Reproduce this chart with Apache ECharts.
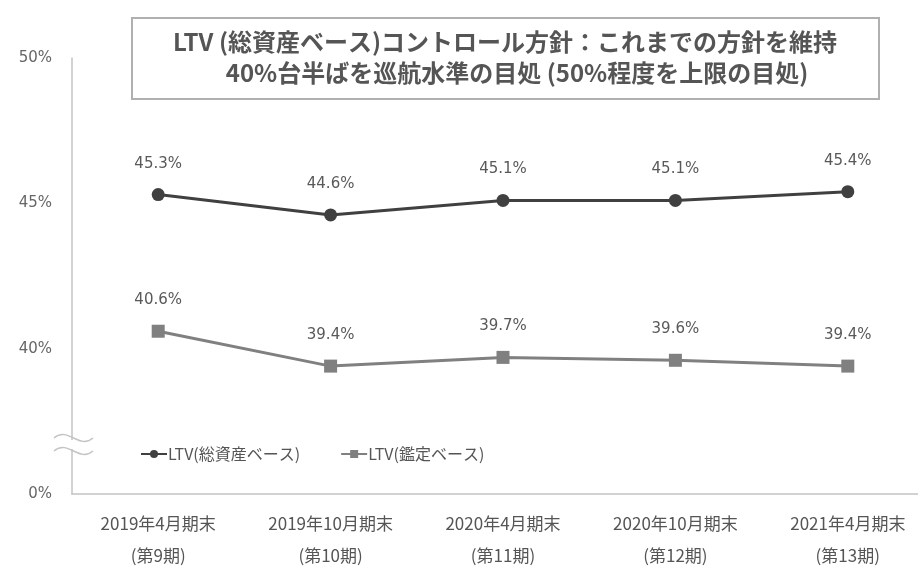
<!DOCTYPE html>
<html>
<head>
<meta charset="utf-8">
<script src="https://cdn.jsdelivr.net/npm/echarts@6/dist/echarts.min.js"></script>
<style>
  html, body { margin: 0; padding: 0; background: #fff; }
  #chart { width: 918px; height: 567px; }
</style>
</head>
<body>
<div id="chart"></div>
<script>
// Period-end labels (two lines: date / fiscal period)
const periods = [
  '2019年4月期末\n(第9期)',
  '2019年10月期末\n(第10期)',
  '2020年4月期末\n(第11期)',
  '2020年10月期末\n(第12期)',
  '2021年4月期末\n(第13期)'
];
// LTV on total-asset basis (%)
const ltvTotalAssets = [45.3, 44.6, 45.1, 45.1, 45.4];
// LTV on appraisal basis (%)
const ltvAppraisal = [40.6, 39.4, 39.7, 39.6, 39.4];
// Series names
const seriesNames = ['LTV(総資産ベース)', 'LTV(鑑定ベース)'];
// Heading lines
const headingLines = [
  'LTV (総資産ベース)コントロール方針：これまでの方針を維持',
  '40%台半ばを巡航水準の目処 (50%程度を上限の目処)'
];
// Axis is broken below 40%; the bottom tick stands for 0%
const axisBreakBase = 35;

const FONT = '"Noto Sans CJK JP", "Noto Sans", sans-serif';
const NUM_FONT = '"DejaVu Sans", Verdana, sans-serif';
const chart = echarts.init(document.getElementById('chart'));

function waveMark(y) {
  return {
    type: 'bezierCurve',
    shape: { x1: 54, y1: y, cpx1: 68, cpy1: y - 12, cpx2: 79, cpy2: y + 12, x2: 93, y2: y },
    style: { fill: null, stroke: '#c4c4c4', lineWidth: 1.5 },
    z: 11
  };
}

const valueLabel = {
  show: true,
  position: 'top',
  distance: 17,
  fontFamily: NUM_FONT,
  fontSize: 15,
  color: '#595959',
  formatter: p => p.value.toFixed(1) + '%'
};

chart.setOption({
  backgroundColor: '#ffffff',
  textStyle: { fontFamily: FONT },
  animation: false,
  grid: { left: 72, width: 862, top: 58, bottom: 73, outerBoundsMode: 'none', containLabel: false },
  legend: {
    left: 135,
    top: 441,
    itemWidth: 26,
    itemHeight: 10,
    itemGap: 40,
    textStyle: { fontFamily: FONT, fontSize: 16, color: '#555', padding: [0, 0, 0, -4] },
    data: seriesNames
  },
  xAxis: {
    type: 'category',
    data: periods,
    boundaryGap: true,
    axisLine: { lineStyle: { color: '#c4c4c4', width: 1.5 } },
    axisTick: { show: false },
    axisLabel: {
      margin: 14,
      fontFamily: FONT,
      fontSize: 17,
      lineHeight: 32,
      color: '#555'
    }
  },
  yAxis: {
    type: 'value',
    min: axisBreakBase,
    max: 50,
    interval: 5,
    axisLine: { show: true, lineStyle: { color: '#c4c4c4', width: 1.5 } },
    axisTick: { show: false },
    splitLine: { show: false },
    axisLabel: {
      margin: 20,
      fontFamily: NUM_FONT,
      fontSize: 15,
      color: '#666',
      lineHeight: 24,
      verticalAlign: 'middle',
      padding: [0, 0, 6, 0],
      formatter: v => (v === axisBreakBase ? '0%' : v + '%')
    }
  },
  series: [
    {
      name: seriesNames[0],
      type: 'line',
      data: ltvTotalAssets,
      symbol: 'circle',
      symbolSize: 13,
      lineStyle: { color: '#404040', width: 3 },
      itemStyle: { color: '#404040' },
      label: valueLabel,
      z: 3
    },
    {
      name: seriesNames[1],
      type: 'line',
      data: ltvAppraisal,
      symbol: 'rect',
      symbolSize: 13,
      lineStyle: { color: '#808080', width: 3 },
      itemStyle: { color: '#808080' },
      label: valueLabel,
      z: 3
    }
  ],
  graphic: [
    // heading box
    {
      type: 'rect',
      shape: { x: 132, y: 18, width: 747, height: 81 },
      style: { fill: '#fff', stroke: '#b0b0b0', lineWidth: 2 },
      z: 10
    },
    {
      type: 'text',
      x: 505, y: 42,
      style: {
        text: headingLines[0],
        fontFamily: FONT, fontSize: 24, fontWeight: 'bold',
        fill: '#555', align: 'center', verticalAlign: 'middle'
      },
      z: 11
    },
    {
      type: 'text',
      x: 517, y: 73,
      style: {
        text: headingLines[1],
        fontFamily: FONT, fontSize: 24, fontWeight: 'bold',
        fill: '#555', align: 'center', verticalAlign: 'middle'
      },
      z: 11
    },
    // axis break mark
    {
      type: 'rect',
      shape: { x: 66, y: 440, width: 12, height: 9 },
      style: { fill: '#fff' },
      z: 10
    },
    waveMark(438),
    waveMark(451)
  ]
});
</script>
</body>
</html>
